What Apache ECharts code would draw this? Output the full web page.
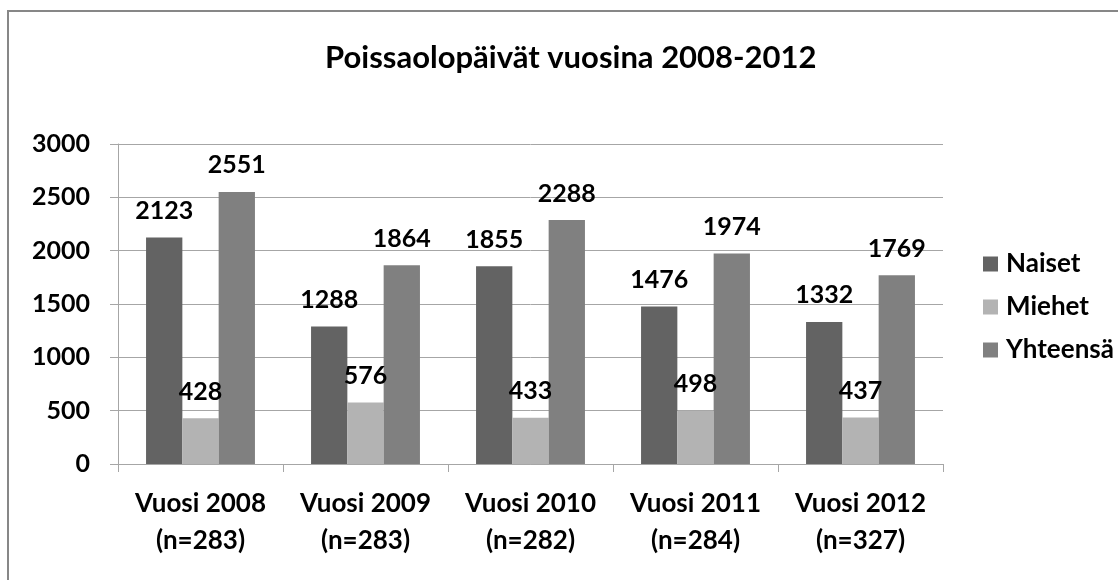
<!DOCTYPE html>
<html>
<head>
<meta charset="utf-8">
<script src="https://cdn.jsdelivr.net/npm/echarts@6/dist/echarts.min.js"></script>
<style>
  html, body { margin: 0; padding: 0; background: #fff; }
  #chart { width: 1118px; height: 580px; }
</style>
</head>
<body>
<div id="chart"></div>
<script>
// vuodet ja otoskoot
const categories = [
  'Vuosi 2008\n(n=283)',
  'Vuosi 2009\n(n=283)',
  'Vuosi 2010\n(n=282)',
  'Vuosi 2011\n(n=284)',
  'Vuosi 2012\n(n=327)'
]
const naiset = [2123, 1288, 1855, 1476, 1332]
const miehet = [428, 576, 433, 498, 437]
const yhteensa = [2551, 1864, 2288, 1974, 1769]
const yTicks = [0, 500, 1000, 1500, 2000, 2500, 3000]

const font = 'Lato, "Open Sans", sans-serif'

function barSeries (name, data, color) {
  return {
    name: name,
    type: 'bar',
    data: data,
    barGap: '0%',
    barCategoryGap: '34%',
    itemStyle: { color: color },
    label: {
      show: true,
      position: 'top',
      distance: 14,
      color: '#000',
      fontFamily: font,
      fontWeight: 'bold',
      fontSize: 25
    }
  }
}

const el = document.getElementById('chart')
const myChart = echarts.init(el)

const option = {
  backgroundColor: '#fff',
  animation: false,
  title: {
    text: 'Poissaolopäivät vuosina 2008-2012',
    left: 320,
    top: 37,
    textStyle: {
      fontFamily: font,
      fontWeight: 'bold',
      fontSize: 31,
      color: '#000'
    }
  },
  graphic: [{
    type: 'rect',
    shape: { x: 8, y: 11, width: 1200, height: 700 },
    style: { fill: 'none', stroke: '#878787', lineWidth: 2 },
    silent: true
  }],
  legend: {
    orient: 'vertical',
    left: 978,
    top: 246,
    itemWidth: 15,
    itemHeight: 15,
    itemGap: 17,
    icon: 'rect',
    textStyle: {
      fontFamily: font,
      fontWeight: 'bold',
      fontSize: 26,
      color: '#000',
      padding: [0, 0, 0, 3]
    }
  },
  grid: {
    left: 118,
    right: 175,
    top: 144,
    bottom: 116,
    containLabel: false
  },
  xAxis: {
    type: 'category',
    data: categories,
    axisLine: { lineStyle: { color: '#a6a6a6', width: 1 } },
    axisTick: { show: true, length: 8, lineStyle: { color: '#a6a6a6' } },
    axisLabel: {
      interval: 0,
      hideOverlap: false,
      margin: 21,
      color: '#000',
      fontFamily: font,
      fontWeight: 'bold',
      fontSize: 26,
      lineHeight: 37
    }
  },
  yAxis: {
    type: 'value',
    min: yTicks[0],
    max: yTicks[yTicks.length - 1],
    interval: 500,
    axisLine: { show: true, lineStyle: { color: '#a6a6a6' } },
    axisTick: { show: true, length: 8, lineStyle: { color: '#a6a6a6' } },
    splitLine: { lineStyle: { color: '#a6a6a6' } },
    axisLabel: {
      margin: 28,
      color: '#000',
      fontFamily: font,
      fontWeight: 'bold',
      fontSize: 25,
      formatter: v => String(v)
    }
  },
  series: [
    barSeries('Naiset', naiset, '#636363'),
    barSeries('Miehet', miehet, '#b3b3b3'),
    barSeries('Yhteensä', yhteensa, '#808080')
  ]
}

myChart.setOption(option)
</script>
</body>
</html>
